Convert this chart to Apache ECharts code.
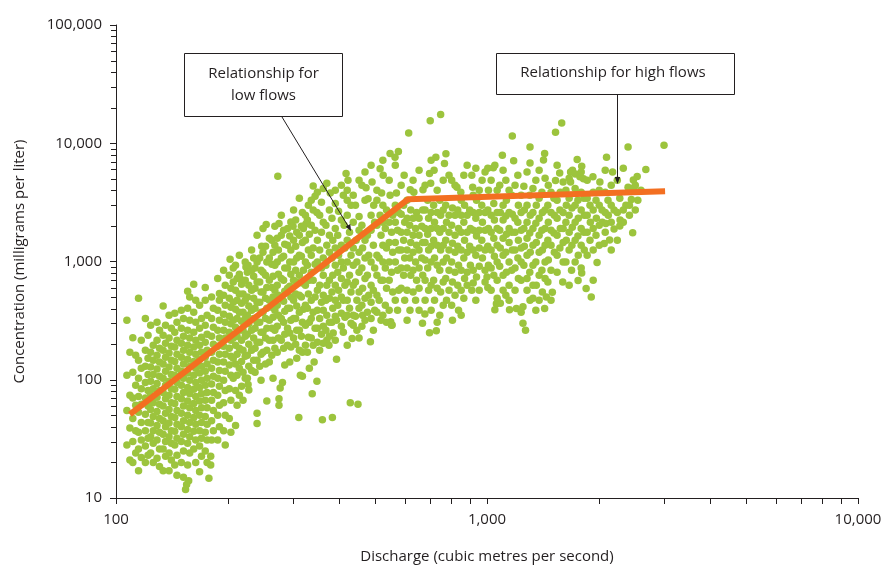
<!DOCTYPE html>
<html>
<head>
<meta charset="utf-8">
<title>Concentration vs discharge</title>
<script src="https://cdn.jsdelivr.net/npm/echarts@6/dist/echarts.min.js"></script>
<style>
  html, body { margin: 0; padding: 0; background: #fff; }
  #main { width: 884px; height: 566px; }
</style>
</head>
<body>
<div id="main"></div>
<script>
// samples, [discharge (m3/s), concentration (mg/l)]
const lowFlowSamples = [
  [107,318],[109,171],[107,109],[109,74],[107,55],[109,39],[107,28],[109,21],
  [111,227],[113,161],[111,116],[113,90],[111,70],[113,61],[111,47],[113,37],[111,30],[113,24],[111,20],
  [115,490],[117,216],[115,146],[117,125],[115,103],[117,84],[115,72],[117,62],[115,53],[117,43.5],[115,36],[117,31],[115,26],[117,22],[115,17],
  [120,330],[122,238],[120,178],[122,152],[120,130],[122,111],[120,95],[122,81],[120,70],[122,60],[120,51],[122,43.5],[120,37],[122,32],[120,27.5],[122,23],[120,20],
  [124,289],[126,196],[124,171],[126,146],[124,128],[126,111],[124,97],[126,84],[124,74],[126,64],[124,56],[126,49],[124,43],[126,37],[124,33],[126,29],[124,24],[126,20],
  [129,306],[131,262],[129,216],[131,185],[129,161],[131,141],[129,123],[131,107],[129,93],[131,81],[129,71],[131,62],[129,54],[131,47],[129,41],[131,36],[129,31],[131,26],[129,21.7],[131,18.5],
  [134,420],[136,289],[134,238],[136,204],[134,178],[136,155],[134,136],[136,118],[134,103],[136,90],[134,78],[136,69],[134,60],[136,52],[134,45],[136,40],[134,34.6],[136,30],[134,26],[136,22.5],[134,17],
  [139,351],[141,272],[139,225],[141,192],[139,168],[141,146],[139,128],[141,111],[139,97],[141,84],[139,74],[141,64],[139,56],[141,49],[139,43],[141,37],[139,33],[141,29],[139,24],[141,21],[139,17],
  [144,365],[146,306],[144,252],[146,216],[144,189],[146,164],[144,143],[146,125],[144,109],[146,95],[144,83],[146,72],[144,63],[146,55],[144,48],[146,42],[144,36.7],[146,32],[144,28],[146,23],[144,19],[146,15.6],
  [150,387],[152,330],[150,272],[152,233],[150,204],[152,178],[150,155],[152,136],[150,118],[152,103],[150,90],[152,78],[150,69],[152,60],[150,52],[152,45],[150,40],[152,34.6],[150,30],[152,25],[150,20],[152,15],[154,11.8],
  [156,561],[158,500],[156,403],[158,318],[156,262],[158,225],[156,196],[158,171],[156,149],[158,130],[156,114],[158,99],[156,86],[158,76],[156,66],[158,58],[156,50],[158,43.5],[156,38],[158,33],[156,29],[158,24],[156,19],[157,14],[155,13],
  [162,643],[164,471],[162,372],[164,306],[162,252],[164,216],[162,189],[164,164],[162,143],[164,125],[162,109],[164,95],[162,83],[164,72],[162,63],[164,55],[162,48],[164,42],[162,36.7],[164,31],[162,26],[164,20],
  [174,603],[168,427],[170,330],[168,272],[170,229],[168,196],[170,171],[168,149],[170,130],[168,114],[170,99],[168,86],[170,76],[168,66],[170,58],[168,50],[170,43.5],[168,37],[170,32],[168,27.5],[170,22.5],[168,16.7],
  [190,537],[174,471],[176,351],[174,289],[176,243],[174,208],[176,178],[174,155],[176,136],[174,118],[176,103],[174,90],[176,78],[174,67],[176,58],[174,49],[176,42],[174,36],[176,31],[174,25],[176,20],[178,14.7],
  [181,500],[183,403],[181,330],[183,278],[181,233],[183,200],[181,171],[183,146],[181,125],[183,107],[181,92],[183,78],[181,67],[183,55],[181,45],[183,37],[181,31],[180,22.5],[180,19],
  [188,718],[190,471],[188,387],[190,318],[188,262],[190,225],[188,192],[190,164],[188,141],[190,120],[188,103],[190,88],[188,74],[190,61],[188,50],[190,40],[188,31],
  [195,844],[197,631],[195,519],[197,427],[195,358],[197,306],[195,262],[197,225],[195,192],[197,164],[195,141],[197,118],[195,99],[197,81],[195,64],[197,50],[195,37],[197,28]
];

const midFlowSamples = [
  [203,1045],[202,766],[204,594],[202,490],[204,410],[202,344],[204,298],[202,252],[204,216],[202,185],[204,158],[202,133],[204,109],[202,84],[204,67],[202,47],[204,36],
  [210,931],[212,718],[210,572],[212,471],[210,395],[212,330],[210,278],[212,233],[210,196],[212,164],[210,136],[212,109],[210,81],[212,61],[210,41],
  [216,718],[224,900],[218,643],[220,530],[218,444],[220,372],[218,312],[220,262],[218,216],[220,178],[218,143],[220,116],[218,88],[220,67],
  [227,931],[226,810],[228,631],[226,500],[228,420],[226,351],[228,298],[226,243],[228,200],[226,161],[228,130],[226,103],[227,91],[228,82],
  [235,1070],[237,880],[235,750],[237,594],[235,490],[237,403],[235,330],[237,272],[235,225],[237,185],[235,146],[237,116],[240,52],[240,42.6],
  [247,1345],[244,1070],[246,844],[244,670],[246,552],[244,452],[246,372],[244,306],[246,252],[244,208],[246,164],[244,130],[246,99],
  [254,2055],[253,1345],[255,990],[253,766],[255,603],[253,490],[255,403],[253,330],[255,272],[253,225],[255,178],[253,136],[255,66],
  [263,1510],[265,1200],[263,950],[265,750],[263,603],[265,500],[263,410],[265,338],[263,272],[265,216],[263,161],[265,103],
  [273,5270],[275,2095],[272,1575],[274,1250],[272,990],[274,780],[272,631],[274,519],[272,427],[274,351],[272,283],[274,225],[272,171],[275,69],[275,61],
  [283,1840],[285,1400],[283,1110],[285,880],[283,695],[285,561],[283,462],[285,380],[283,306],[285,243],[283,185],[285,133],[277,85],[281,95],
  [296,2160],[294,1640],[296,1250],[294,990],[296,780],[294,618],[296,500],[294,403],[296,318],[294,248],[296,189],[294,141],
  [300,1990],[305,2240],[307,1770],[305,1345],[307,1070],[305,844],[307,670],[305,530],[307,420],[305,330],[307,262],[305,200],[307,152],[311,48],
  [318,2600],[316,1990],[320,1900],[318,1450],[316,1110],[320,844],[318,657],[316,500],[320,395],[318,306],[316,233],[318,171],[318,107],[314,109],
  [330,2990],[328,2240],[332,1700],[330,1250],[328,931],[332,695],[330,530],[328,403],[332,306],[330,229],[328,171],[332,125],[325,2080],[320,1980],
  [340,4350],[344,3570],[340,2720],[344,1840],[340,1300],[344,950],[340,695],[344,500],[340,372],[344,272],[340,196],[342,141],[338,76],[348,2600],
  [358,3170],[354,2460],[358,1770],[354,1250],[358,880],[354,631],[358,452],[354,330],[358,243],[354,178],[360,46],[348,97],
  [370,4600],[378,3800],[368,2030],[370,1370],[368,931],[370,631],[368,471],[370,351],[368,262],[370,216],[375,196],
  [390,3100],[382,2320],[384,1510],[382,1070],[384,766],[382,552],[384,403],[382,306],[385,248],[383,48],
  [410,3640],[398,2660],[396,1670],[398,1130],[396,810],[398,572],[396,427],[405,365],[393,318],[393,149],
  [417,5550],[420,3300],[412,2030],[414,1300],[410,880],[414,631],[410,471],[414,338],[410,252],
  [422,4870],[430,2990],[426,1770],[430,1130],[426,766],[430,552],[426,403],[430,300],[433,223],[428,64],
  [442,2990],[452,2400],[444,1510],[446,990],[442,670],[446,471],[442,344],[446,262],[449,62],
  [460,4420],[460,2030],[462,1300],[460,880],[462,594],[460,427],[462,351],[460,283],
  [472,4200],[478,3400],[476,1670],[480,1130],[476,766],[480,519],[476,372],[485,210],
  [490,4700],[495,2990],[498,2150],[494,1370],[498,880],[494,572],[498,387],[494,262],
  [515,6100],[525,5370],[505,4000],[515,2460],[518,1670],[512,1070],[518,695],[512,471],[518,318],[550,310],[555,290],
  [520,3800],[536,2720],[532,1900],[536,1300],[532,880],[536,594],[532,427],[536,306],
  [548,8200],[548,3640],[557,2460],[553,1770],[557,1200],[553,810],[557,552],[553,289],
  [577,8500],[565,7600],[570,3800],[578,2600],[574,1840],[578,1250],[574,844],[578,572],[574,387]
];

// extra points filling the gaps between the columns above
const midFlowFill = [
  [207,880],[207,670],[207,452],[207,318],[207,225],[207,152],[207,103],
  [215,1130],[215,780],[215,530],[215,372],[215,262],[215,185],[215,125],[215,74],
  [223,990],[223,695],[223,471],[223,330],[223,233],[223,158],[223,103],
  [232,1250],[232,844],[232,572],[232,387],[232,262],[232,178],[232,120],
  [240,1670],[240,990],[240,670],[240,452],[240,306],[240,208],[240,146],
  [249,1900],[249,1200],[249,810],[249,552],[249,372],[249,252],[249,171],
  [259,1575],[259,1070],[259,695],[259,471],[259,318],[259,216],[259,141],
  [268,1990],[268,1370],[268,931],[268,572],[268,387],[268,262],[268,185],
  [279,2460],[279,1670],[279,1070],[279,718],[279,490],[279,330],[279,216],
  [290,1900],[290,1370],[290,880],[290,594],[290,403],[290,272],[290,196],
  [301,2720],[301,1510],[301,990],[301,695],[301,471],[301,330],[301,225],
  [312,3430],[312,1670],[312,1130],[312,766],[312,519],[312,372],[312,262],[312,178],
  [324,2460],[324,1510],[324,990],[324,631],[324,427],[324,289],[324,196],
  [336,3300],[336,2030],[336,1130],[336,810],[336,471],[336,330],[336,225],
  [349,3860],[349,1510],[349,990],[349,572],[349,387],[349,272],[349,208],
  [362,4150],[362,2150],[362,1070],[362,766],[362,519],[362,387],[362,283],[362,204],
  [376,2720],[376,1670],[376,1200],[376,695],[376,490],[376,306],[376,233],
  [390,4010],[390,1900],[390,1300],[390,931],[390,631],[390,471],[390,344],[390,216],
  [405,4420],[405,2240],[405,1370],[405,990],[405,718],[405,500],[405,283],
  [420,4010],[420,2460],[420,1510],[420,990],[420,670],[420,471],[420,351],[420,196],
  [436,3640],[436,2150],[436,1300],[436,931],[436,631],[436,351],[436,289],
  [452,4870],[452,1840],[452,1200],[452,810],[452,552],[452,403],[452,225],
  [469,5700],[469,3300],[469,1510],[469,1070],[469,718],[469,490],[469,318],
  [487,6520],[487,2460],[487,1840],[487,990],[487,631],[487,452],[487,330],
  [505,3300],[505,2030],[505,1130],[505,766],[505,519],[505,372],
  [524,7190],[524,2990],[524,2150],[524,1370],[524,990],[524,695],[524,351],
  [545,4870],[545,2150],[545,1450],[545,990],[545,695],[545,387],
  [566,6520],[566,2990],[566,2150],[566,1450],[566,990],[566,471],
  [587,4420],[587,2510],[587,1770],[587,1250],[587,880],[587,594]
];

const highFlowSamples = [
  [598,5370],[596,2990],[600,2150],[596,1510],[600,1070],[596,766],[600,471],
  [615,12200],[621,4050],[623,2720],[619,2030],[623,1450],[619,1070],[623,766],[620,387],
  [635,3860],[646,2600],[642,1900],[646,1370],[642,990],[646,695],[642,471],
  [672,4050],[671,2720],[667,1990],[671,1450],[667,1070],[671,766],[670,300],
  [703,15500],[700,5550],[692,3300],[696,2320],[692,1700],[696,1250],[692,880],[696,572],[680,360],[700,250],
  [720,5900],[705,4600],[718,2990],[722,2150],[718,1510],[722,1070],[718,695],[722,471],[730,260],
  [750,17500],[728,7600],[746,3300],[750,2460],[746,1770],[750,1250],[746,844],[750,552],[746,351],
  [775,8150],[768,6750],[774,2990],[778,2150],[774,1510],[778,1070],[774,718],[778,471],
  [803,4870],[807,2830],[803,2030],[807,1430],[803,990],[807,670],[803,427],[807,318],
  [830,4250],[850,3860],[834,2720],[838,1900],[834,1345],[838,931],[834,631],[838,387],
  [866,5370],[870,2990],[866,2150],[870,1510],[866,1070],[870,718],[866,490],
  [910,5370],[915,4250],[898,2720],[902,1900],[898,1345],[902,931],[910,570],
  [933,6150],[937,3300],[933,2320],[937,1640],[933,1130],[937,738],[933,471],
  [970,4870],[968,2990],[972,2150],[968,1510],[972,1070],[1000,740],
  [1005,6150],[1009,4010],[1005,2720],[1009,1900],[1005,1345],[1009,931],[1005,603],
  [1040,6200],[1050,6500],[1043,3100],[1047,2240],[1043,1575],[1047,1110],[1043,766],[1050,390],[1060,440],
  [1100,7900],[1082,4420],[1086,2600],[1082,1840],[1086,1300],[1082,912],[1086,444],
  [1124,4870],[1128,3300],[1124,2420],[1128,1700],[1124,1200],[1128,810],[1124,519],
  [1170,11500],[1180,7100],[1166,3640],[1170,2510],[1166,1770],[1170,1250],[1166,844],[1150,390],
  [1211,5370],[1215,2990],[1211,2150],[1215,1510],[1211,1070],[1215,718],[1200,400],
  [1257,4330],[1261,2720],[1257,1900],[1261,1345],[1257,931],[1250,415],[1250,300],
  [1306,9300],[1306,6800],[1304,3640],[1308,2460],[1304,1740],[1308,1200],[1304,810],[1306,470],[1270,262],
  [1354,4870],[1358,2990],[1354,2110],[1358,1450],[1354,990],[1358,631],[1354,387],
  [1430,8200],[1420,7200],[1406,3860],[1410,2600],[1406,1840],[1410,1250],[1406,844],[1410,552],
  [1463,4420],[1459,2990],[1463,2150],[1459,1510],[1463,1030],[1459,670],[1445,500],[1430,400],
  [1530,12400],[1530,4850],[1515,3430],[1519,2460],[1515,1740],[1519,1200],[1500,550],
  [1590,14800],[1570,5600],[1576,3860],[1572,2720],[1576,1900],[1572,1300],[1600,670],
  [1632,4010],[1636,2990],[1632,2150],[1636,1510],[1632,990],
  [1700,5900],[1680,5700],[1680,4700],[1694,2830],[1698,1950],[1694,1370],[1690,845],
  [1750,7300],[1730,5500],[1780,5200],[1758,3300],[1762,2320],[1758,1640],[1762,1130],[1760,690],
  [1800,6400],[1820,5000],[1825,3430],[1829,2460],[1825,1770],[1829,1250],[1800,800],[1850,590],
  [1930,5200],[1895,2990],[1899,2150],[1895,1510],[1910,500],
  [2015,4700],[1967,3300],[1971,2320],[1967,1670],[1980,980],
  [2042,2720],[2046,2150],[2070,1420],[2090,2100],
  [2100,7600],[2119,3300],[2123,2460],[2200,1880],[2140,1520],
  [2180,5700],[2200,2720],[2280,2000],
  [2280,3430],[2284,2240],
  [2400,9300],[2400,4250],[2368,2990],
  [2480,4900],[2490,4200],[2450,3350],[2470,1750],
  [2540,5230],[2550,3300],
  [2680,6000],
  [3000,9600]
];

const highFlowFill = [
  [609,3300],[609,2320],[609,1770],[609,1250],[609,880],[609,572],[609,318],
  [632,4870],[632,2320],[632,1670],[632,1200],[632,844],[632,552],
  [656,5920],[656,2320],[656,1670],[656,1250],[656,880],[656,594],[656,387],
  [681,4420],[681,2720],[681,1900],[681,1450],[681,1030],[681,695],[681,471],
  [707,7190],[707,2600],[707,1900],[707,1345],[707,990],[707,631],[707,387],
  [734,4010],[734,2600],[734,1900],[734,1370],[734,931],[734,594],[734,306],
  [762,4870],[762,2720],[762,1900],[762,1370],[762,990],[762,670],[762,427],
  [790,5370],[790,2460],[790,1770],[790,1250],[790,844],[790,572],
  [820,4420],[820,2460],[820,1670],[820,1200],[820,810],[820,519],
  [852,3300],[852,2460],[852,1770],[852,1250],[852,844],[852,572],[852,351],
  [884,6520],[884,2460],[884,1770],[884,1200],[884,810],[884,631],
  [918,3640],[918,2600],[918,1840],[918,1250],[918,844],[918,657],
  [953,4010],[953,2600],[953,1840],[953,1300],[953,912],[953,572],
  [988,5700],[988,2600],[988,1840],[988,1250],[988,844],[988,670],
  [1026,4870],[1026,2460],[1026,1770],[1026,1250],[1026,880],[1026,572],
  [1065,4010],[1065,2600],[1065,1900],[1065,1370],[1065,990],[1065,695],[1065,490],
  [1105,5920],[1105,2990],[1105,2240],[1105,1575],[1105,1130],[1105,766],[1105,572],
  [1147,4010],[1147,2600],[1147,1900],[1147,1450],[1147,990],[1147,631],[1147,471],
  [1190,4420],[1190,2320],[1190,1770],[1190,1250],[1190,880],[1190,572],
  [1236,3640],[1236,2600],[1236,1840],[1236,1300],[1236,990],[1236,695],[1236,372],
  [1282,5700],[1282,2990],[1282,2150],[1282,1575],[1282,1130],[1282,718],[1282,572],
  [1330,4150],[1330,2600],[1330,1900],[1330,1370],[1330,931],[1330,631],[1330,490],
  [1382,5920],[1382,3430],[1382,2320],[1382,1670],[1382,1200],[1382,766],[1382,471],
  [1434,5060],[1434,2720],[1434,1900],[1434,1370],[1434,990],[1434,718],
  [1488,3860],[1488,2600],[1488,1840],[1488,1370],[1488,844],[1488,471],
  [1545,6520],[1545,3300],[1545,2320],[1545,1670],[1545,1130],[1545,810],
  [1604,4700],[1604,2600],[1604,1900],[1604,1450],[1604,990],
  [1665,5060],[1665,3430],[1665,2460],[1665,1770],[1665,1250],[1665,631],
  [1728,4150],[1728,2990],[1728,2150],[1728,1510],[1728,990],
  [1794,5700],[1794,3860],[1794,2720],[1794,1900],[1794,1370],[1794,880],
  [1862,4870],[1862,3430],[1862,2460],[1862,1770],[1862,1130],
  [1933,3860],[1933,2720],[1933,1900],[1933,1250],[1933,695],
  [2007,4010],[2007,2990],[2007,2030],[2007,1370],
  [2083,5920],[2083,3860],[2083,2600],[2083,1770],
  [2162,4420],[2162,2990],[2162,2150],[2162,1250],
  [2245,4870],[2245,2600],[2245,1510],
  [2330,6150],[2330,2720],[2330,2150],
  [2420,2990],[2420,2460],
  [2510,4420],[2510,2720],
  [2600,4010]
];

// fitted relationship (low flows then high flows)
const fitDischarge = [109, 613, 3020];
const fitConcentration = [51, 3365, 3935];

const xMinorTicks = [200, 300, 400, 500, 600, 700, 800, 900, 2000, 3000, 4000, 5000, 6000, 7000, 8000, 9000];
const yMinorTicks = [20, 30, 40, 50, 60, 70, 80, 90, 200, 300, 400, 500, 600, 700, 800, 900,
  2000, 3000, 4000, 5000, 6000, 7000, 8000, 9000, 20000, 30000, 40000, 50000, 60000, 70000, 80000, 90000];

const GREEN = '#9cc43d';
const ORANGE = '#f36f21';
const INK = '#231f20';
const FONT = '"Open Sans", "Noto Sans", sans-serif';

const withCommas = v => String(Math.round(v)).replace(/\B(?=(\d{3})+(?!\d))/g, ',');

const axisBase = {
  type: 'log',
  logBase: 10,
  nameLocation: 'middle',
  nameTextStyle: { color: INK, fontSize: 15, fontFamily: FONT },
  axisLine: { lineStyle: { color: INK, width: 1 } },
  axisTick: { length: 6, lineStyle: { color: INK, width: 1 } },
  axisLabel: { color: INK, fontSize: 15, fontFamily: FONT, formatter: withCommas, showMinLabel: true, showMaxLabel: true },
  splitLine: { show: false }
};

const chart = echarts.init(document.getElementById('main'), null, { renderer: 'canvas' });

const fitData = fitDischarge.map((q, i) => [q, fitConcentration[i]]);
const allSamples = lowFlowSamples.concat(midFlowSamples, midFlowFill, highFlowSamples, highFlowFill);

chart.setOption({
  animation: false,
  backgroundColor: '#fff',
  grid: { left: 116, right: 26, top: 25, bottom: 68, containLabel: false, outerBoundsMode: 'none' },
  xAxis: Object.assign({}, axisBase, {
    min: 100, max: 10000,
    name: 'Discharge (cubic metres per second)',
    nameGap: 51,
    axisLabel: Object.assign({}, axisBase.axisLabel, { margin: 14 })
  }),
  yAxis: Object.assign({}, axisBase, {
    min: 10, max: 100000,
    name: 'Concentration (milligrams per liter)',
    nameGap: 89,
    axisLabel: Object.assign({}, axisBase.axisLabel, { margin: 14 })
  }),
  series: [
    {
      type: 'scatter',
      data: allSamples,
      symbolSize: 7.5,
      itemStyle: { color: GREEN, opacity: 1 },
      silent: true,
      z: 2
    },
    {
      type: 'line',
      data: fitData,
      symbol: 'none',
      lineStyle: { color: ORANGE, width: 6 },
      silent: true,
      z: 3
    },
    {
      // minor ticks on the x axis (2..9 of each decade)
      type: 'custom',
      clip: false,
      silent: true,
      data: xMinorTicks.map(v => [v, 10]),
      renderItem: (params, api) => {
        const p = api.coord([api.value(0), api.value(1)]);
        const x = Math.round(p[0]) + 0.5;
        return { type: 'line', shape: { x1: x, y1: p[1], x2: x, y2: p[1] + 6 }, style: { stroke: INK, lineWidth: 1 } };
      },
      z: 4
    },
    {
      // minor ticks on the y axis
      type: 'custom',
      clip: false,
      silent: true,
      data: yMinorTicks.map(v => [100, v]),
      renderItem: (params, api) => {
        const p = api.coord([api.value(0), api.value(1)]);
        const y = Math.round(p[1]) + 0.5;
        return { type: 'line', shape: { x1: p[0] - 5, y1: y, x2: p[0], y2: y }, style: { stroke: INK, lineWidth: 1 } };
      },
      z: 4
    }
  ],
  graphic: [
    // low flows callout
    { type: 'rect', shape: { x: 184.5, y: 53.5, width: 158, height: 63 }, style: { fill: '#fff', stroke: INK, lineWidth: 1 }, z: 10 },
    { type: 'text', x: 263.5, y: 85, style: { text: 'Relationship for\nlow flows', fill: INK, font: '15px ' + FONT, align: 'center', verticalAlign: 'middle', lineHeight: 22 }, z: 11 },
    { type: 'line', shape: { x1: 282, y1: 117, x2: 348, y2: 226 }, style: { stroke: INK, lineWidth: 1 }, z: 10 },
    { type: 'polygon', shape: { points: [[351, 231], [345.6, 226.7], [350.3, 223.9]] }, style: { fill: INK }, z: 10 },
    // high flows callout
    { type: 'rect', shape: { x: 496.5, y: 53.5, width: 238, height: 41 }, style: { fill: '#fff', stroke: INK, lineWidth: 1 }, z: 10 },
    { type: 'text', x: 613, y: 73, style: { text: 'Relationship for high flows', fill: INK, font: '15px ' + FONT, align: 'center', verticalAlign: 'middle' }, z: 11 },
    { type: 'line', shape: { x1: 617.5, y1: 95, x2: 617.5, y2: 178 }, style: { stroke: INK, lineWidth: 1 }, z: 10 },
    { type: 'polygon', shape: { points: [[617.5, 184], [614.8, 177], [620.2, 177]] }, style: { fill: INK }, z: 10 }
  ]
});
</script>
</body>
</html>
